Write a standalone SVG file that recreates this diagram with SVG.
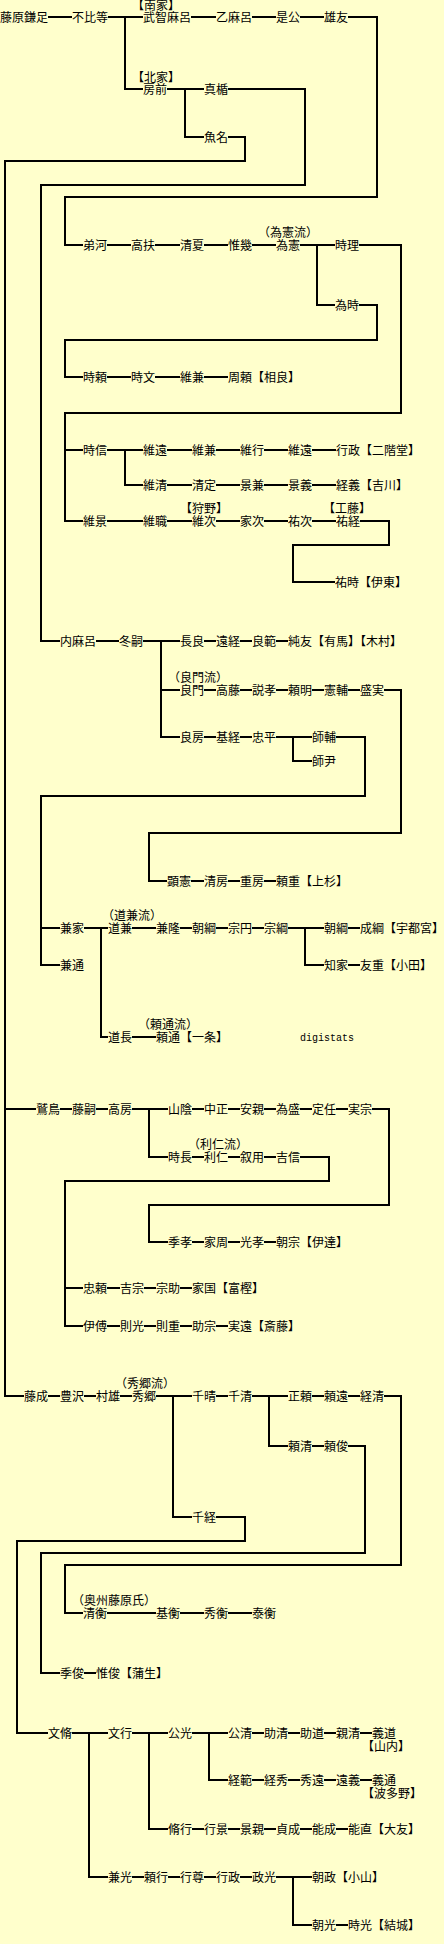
<svg xmlns="http://www.w3.org/2000/svg" width="444" height="1944" viewBox="0 0 444 1944">
<style>
text{font-family:"Noto Sans CJK JP","Noto Sans CJK SC",sans-serif;font-size:12px;fill:#000}
.c path{fill:none;stroke:#000;stroke-width:2;stroke-linejoin:miter}
.m{font-family:"Liberation Mono",monospace;font-size:10px}
</style>
<rect width="444" height="1944" fill="#FFFFCC"/>
<g class="c" id="connectors">
<path d="M48,17H72M108,17H143M125,17V89H143M191,17H216M252,17H276M300,17H324"/>
<path d="M348,17H377V197H65V245H83"/>
<path d="M167,89H204M185,89V137H204"/>
<path d="M228,89H305V185H41V641H60"/>
<path d="M228,137H245V161H5V1109H36M5,1109V1396H24"/>
<path d="M107,245H131M155,245H180M204,245H228M252,245H276M300,245H335M317,245V305H335"/>
<path d="M359,245H401V413H65V450H83M65,450V521H83"/>
<path d="M359,305H377V340H65V377H83"/>
<path d="M107,377H131M155,377H180M204,377H228"/>
<path d="M107,450H143M125,450V485H143M167,450H192M216,450H240M264,450H288M312,450H336"/>
<path d="M167,485H192M216,485H240M264,485H288M312,485H336"/>
<path d="M107,521H143M167,521H192M216,521H240M264,521H288M312,521H336M360,521H389V545H293V582H335"/>
<path d="M96,641H119M143,641H180M161,641V737H180M161,690H180M204,641H216M240,641H252M276,641H288"/>
<path d="M204,690H216M240,690H252M276,690H288M312,690H324M348,690H360M384,690H401V833H149V881H167"/>
<path d="M204,737H216M240,737H252M276,737H312M293,737V761H312M336,737H365V796H41V965H60M41,928H60"/>
<path d="M191,881H204M228,881H240M264,881H276"/>
<path d="M84,928H108M101,928V1037H108M132,928H156M180,928H192M216,928H228M252,928H264M288,928H324M305,928V965H324M348,928H360M348,965H360M132,1037H156"/>
<path d="M60,1109H72M96,1109H108M132,1109H168M149,1109V1157H168M192,1109H204M228,1109H240M264,1109H276M300,1109H312M336,1109H348M372,1109H389V1205H149V1242H168"/>
<path d="M192,1157H204M228,1157H240M264,1157H276M300,1157H329V1181H65V1326H83M65,1288H83"/>
<path d="M192,1242H204M228,1242H240M264,1242H276M107,1288H120M144,1288H156M180,1288H192M107,1326H120M144,1326H156M180,1326H192M216,1326H228"/>
<path d="M48,1396H60M84,1396H96M120,1396H132M156,1396H192M173,1396V1517H192M216,1396H228M252,1396H288M269,1396V1446H288M312,1396H324M348,1396H360M384,1396H401V1565H65V1613H83"/>
<path d="M312,1446H324M348,1446H365V1553H41V1673H60"/>
<path d="M216,1517H245V1541H17V1733H48"/>
<path d="M107,1613H156M180,1613H204M228,1613H252M84,1673H96"/>
<path d="M72,1733H108M89,1733V1877H108M132,1733H168M149,1733V1829H168M192,1733H228M209,1733V1780H228M252,1733H264M288,1733H300M324,1733H336M360,1733H372"/>
<path d="M252,1780H264M288,1780H300M324,1780H336M360,1780H372"/>
<path d="M192,1829H204M228,1829H240M264,1829H276M300,1829H312M336,1829H348"/>
<path d="M132,1877H144M168,1877H180M204,1877H216M240,1877H252M276,1877H312M293,1877V1925H312M336,1925H348"/>
</g>
<g id="n_kamatari"><text x="0" y="22">藤原鎌足</text></g>
<g id="n_fuhito"><text x="72" y="22">不比等</text></g>
<g id="n_muchimaro"><text x="132" y="10">【南家】</text><text x="143" y="22">武智麻呂</text></g>
<g id="n_otomaro"><text x="216" y="22">乙麻呂</text></g>
<g id="n_korekimi"><text x="276" y="22">是公</text></g>
<g id="n_otomo"><text x="324" y="22">雄友</text></g>
<g id="n_fusasaki"><text x="132" y="82">【北家】</text><text x="143" y="94">房前</text></g>
<g id="n_matate"><text x="204" y="94">真楯</text></g>
<g id="n_uona"><text x="204" y="142">魚名</text></g>
<g id="n_otokawa"><text x="83" y="250">弟河</text></g>
<g id="n_takasuke"><text x="131" y="250">高扶</text></g>
<g id="n_kiyonatsu"><text x="180" y="250">清夏</text></g>
<g id="n_koreki"><text x="228" y="250">惟幾</text></g>
<g id="n_tamenori"><text x="258" y="237">（為憲流）</text><text x="276" y="250">為憲</text></g>
<g id="n_tokimasa"><text x="335" y="250">時理</text></g>
<g id="n_tametoki"><text x="335" y="310">為時</text></g>
<g id="n_tokiyori"><text x="83" y="382">時頼</text></g>
<g id="n_tokifumi"><text x="131" y="382">時文</text></g>
<g id="n_korekane1"><text x="180" y="382">維兼</text></g>
<g id="n_sagara"><text x="228" y="382">周頼【相良】</text></g>
<g id="n_tokinobu"><text x="83" y="455">時信</text></g>
<g id="n_koretoo1"><text x="143" y="455">維遠</text></g>
<g id="n_korekane2"><text x="192" y="455">維兼</text></g>
<g id="n_koreyuki"><text x="240" y="455">維行</text></g>
<g id="n_koretoo2"><text x="288" y="455">維遠</text></g>
<g id="n_nikaido"><text x="336" y="455">行政【二階堂】</text></g>
<g id="n_korekiyo"><text x="143" y="490">維清</text></g>
<g id="n_kiyosada"><text x="192" y="490">清定</text></g>
<g id="n_kagekane"><text x="240" y="490">景兼</text></g>
<g id="n_kageyoshi"><text x="288" y="490">景義</text></g>
<g id="n_kikkawa"><text x="336" y="490">経義【吉川】</text></g>
<g id="n_korekage"><text x="83" y="526">維景</text></g>
<g id="n_koremoto"><text x="143" y="526">維職</text></g>
<g id="n_koretsugu"><text x="180" y="513">【狩野】</text><text x="192" y="526">維次</text></g>
<g id="n_ietsugu"><text x="240" y="526">家次</text></g>
<g id="n_suketsugu"><text x="288" y="526">祐次</text></g>
<g id="n_suketsune"><text x="323" y="513">【工藤】</text><text x="336" y="526">祐経</text></g>
<g id="n_ito"><text x="335" y="587">祐時【伊東】</text></g>
<g id="n_uchimaro"><text x="60" y="646">内麻呂</text></g>
<g id="n_fuyutsugu"><text x="119" y="646">冬嗣</text></g>
<g id="n_nagara"><text x="180" y="646">長良</text></g>
<g id="n_tootsune"><text x="216" y="646">遠経</text></g>
<g id="n_yoshinori"><text x="252" y="646">良範</text></g>
<g id="n_sumitomo"><text x="288" y="646">純友【有馬】【木村】</text></g>
<g id="n_yoshikado"><text x="168" y="682">（良門流）</text><text x="180" y="695">良門</text></g>
<g id="n_takafuji"><text x="216" y="695">高藤</text></g>
<g id="n_tokitaka"><text x="252" y="695">説孝</text></g>
<g id="n_yoriakira"><text x="288" y="695">頼明</text></g>
<g id="n_norisuke"><text x="324" y="695">憲輔</text></g>
<g id="n_morizane"><text x="360" y="695">盛実</text></g>
<g id="n_yoshifusa"><text x="180" y="742">良房</text></g>
<g id="n_mototsune"><text x="216" y="742">基経</text></g>
<g id="n_tadahira"><text x="252" y="742">忠平</text></g>
<g id="n_morosuke"><text x="312" y="742">師輔</text></g>
<g id="n_morotada"><text x="312" y="766">師尹</text></g>
<g id="n_akinori"><text x="167" y="886">顕憲</text></g>
<g id="n_kiyofusa"><text x="204" y="886">清房</text></g>
<g id="n_shigefusa"><text x="240" y="886">重房</text></g>
<g id="n_uesugi"><text x="276" y="886">頼重【上杉】</text></g>
<g id="n_kaneie"><text x="60" y="933">兼家</text></g>
<g id="n_michikane"><text x="102" y="920">（道兼流）</text><text x="108" y="933">道兼</text></g>
<g id="n_kanetaka"><text x="156" y="933">兼隆</text></g>
<g id="n_tomotsuna1"><text x="192" y="933">朝綱</text></g>
<g id="n_soen"><text x="228" y="933">宗円</text></g>
<g id="n_munetsuna"><text x="264" y="933">宗綱</text></g>
<g id="n_tomotsuna2"><text x="324" y="933">朝綱</text></g>
<g id="n_utsunomiya"><text x="360" y="933">成綱【宇都宮】</text></g>
<g id="n_kanemichi"><text x="60" y="970">兼通</text></g>
<g id="n_tomoie"><text x="324" y="970">知家</text></g>
<g id="n_oda"><text x="360" y="970">友重【小田】</text></g>
<g id="n_michinaga"><text x="108" y="1042">道長</text></g>
<g id="n_ichijo"><text x="138" y="1029">（頼通流）</text><text x="156" y="1042">頼通【一条】</text></g>
<text class="m" x="300" y="1041">digistats</text>
<g id="n_washitori"><text x="36" y="1114">鷲鳥</text></g>
<g id="n_fujitsugu"><text x="72" y="1114">藤嗣</text></g>
<g id="n_takafusa"><text x="108" y="1114">高房</text></g>
<g id="n_yamakage"><text x="168" y="1114">山陰</text></g>
<g id="n_nakamasa"><text x="204" y="1114">中正</text></g>
<g id="n_yasuchika"><text x="240" y="1114">安親</text></g>
<g id="n_tamemori"><text x="276" y="1114">為盛</text></g>
<g id="n_sadato"><text x="312" y="1114">定任</text></g>
<g id="n_sanemune"><text x="348" y="1114">実宗</text></g>
<g id="n_tokinaga"><text x="188" y="1149">（利仁流）</text><text x="168" y="1162">時長</text></g>
<g id="n_toshihito"><text x="204" y="1162">利仁</text></g>
<g id="n_nobumochi"><text x="240" y="1162">叙用</text></g>
<g id="n_yoshinobu"><text x="276" y="1162">吉信</text></g>
<g id="n_suetaka"><text x="168" y="1247">季孝</text></g>
<g id="n_iechika"><text x="204" y="1247">家周</text></g>
<g id="n_mitsutaka"><text x="240" y="1247">光孝</text></g>
<g id="n_date"><text x="276" y="1247">朝宗【伊達】</text></g>
<g id="n_tadayori"><text x="83" y="1293">忠頼</text></g>
<g id="n_yoshimune"><text x="120" y="1293">吉宗</text></g>
<g id="n_munesuke"><text x="156" y="1293">宗助</text></g>
<g id="n_togashi"><text x="192" y="1293">家国【富樫】</text></g>
<g id="n_korenori"><text x="83" y="1331">伊傅</text></g>
<g id="n_norimitsu"><text x="120" y="1331">則光</text></g>
<g id="n_norishige"><text x="156" y="1331">則重</text></g>
<g id="n_sukemune"><text x="192" y="1331">助宗</text></g>
<g id="n_saito"><text x="228" y="1331">実遠【斎藤】</text></g>
<g id="n_fujinari"><text x="24" y="1401">藤成</text></g>
<g id="n_toyosawa"><text x="60" y="1401">豊沢</text></g>
<g id="n_murao"><text x="96" y="1401">村雄</text></g>
<g id="n_hidesato"><text x="115" y="1388">（秀郷流）</text><text x="132" y="1401">秀郷</text></g>
<g id="n_chiharu"><text x="192" y="1401">千晴</text></g>
<g id="n_chikiyo"><text x="228" y="1401">千清</text></g>
<g id="n_masayori"><text x="288" y="1401">正頼</text></g>
<g id="n_yoritoo"><text x="324" y="1401">頼遠</text></g>
<g id="n_tsunekiyo"><text x="360" y="1401">経清</text></g>
<g id="n_yorikiyo"><text x="288" y="1451">頼清</text></g>
<g id="n_yoritoshi"><text x="324" y="1451">頼俊</text></g>
<g id="n_chitsune"><text x="192" y="1522">千経</text></g>
<g id="n_kiyohira"><text x="72" y="1605">（奥州藤原氏）</text><text x="83" y="1618">清衡</text></g>
<g id="n_motohira"><text x="156" y="1618">基衡</text></g>
<g id="n_hidehira"><text x="204" y="1618">秀衡</text></g>
<g id="n_yasuhira"><text x="252" y="1618">泰衡</text></g>
<g id="n_suetoshi"><text x="60" y="1678">季俊</text></g>
<g id="n_gamo"><text x="96" y="1678">惟俊【蒲生】</text></g>
<g id="n_fumiyasu"><text x="48" y="1738">文脩</text></g>
<g id="n_fumiyuki"><text x="108" y="1738">文行</text></g>
<g id="n_kimimitsu"><text x="168" y="1738">公光</text></g>
<g id="n_kimikiyo"><text x="228" y="1738">公清</text></g>
<g id="n_sukekiyo"><text x="264" y="1738">助清</text></g>
<g id="n_sukemichi"><text x="300" y="1738">助道</text></g>
<g id="n_chikakiyo"><text x="336" y="1738">親清</text></g>
<g id="n_yamanouchi"><text x="372" y="1738">義道</text><text x="362" y="1751">【山内】</text></g>
<g id="n_tsunenori"><text x="228" y="1785">経範</text></g>
<g id="n_tsunehide"><text x="264" y="1785">経秀</text></g>
<g id="n_hidetoo"><text x="300" y="1785">秀遠</text></g>
<g id="n_tooyoshi"><text x="336" y="1785">遠義</text></g>
<g id="n_hatano"><text x="372" y="1785">義通</text><text x="362" y="1798">【波多野】</text></g>
<g id="n_nagayuki"><text x="168" y="1834">脩行</text></g>
<g id="n_yukikage"><text x="204" y="1834">行景</text></g>
<g id="n_kagechika"><text x="240" y="1834">景親</text></g>
<g id="n_sadanari"><text x="276" y="1834">貞成</text></g>
<g id="n_yoshinari"><text x="312" y="1834">能成</text></g>
<g id="n_otomo2"><text x="348" y="1834">能直【大友】</text></g>
<g id="n_kanemitsu"><text x="108" y="1882">兼光</text></g>
<g id="n_yoriyuki"><text x="144" y="1882">頼行</text></g>
<g id="n_gyoson"><text x="180" y="1882">行尊</text></g>
<g id="n_yukimasa"><text x="216" y="1882">行政</text></g>
<g id="n_masamitsu"><text x="252" y="1882">政光</text></g>
<g id="n_oyama"><text x="312" y="1882">朝政【小山】</text></g>
<g id="n_tomomitsu"><text x="312" y="1930">朝光</text></g>
<g id="n_yuki"><text x="348" y="1930">時光【結城】</text></g>
</svg>
